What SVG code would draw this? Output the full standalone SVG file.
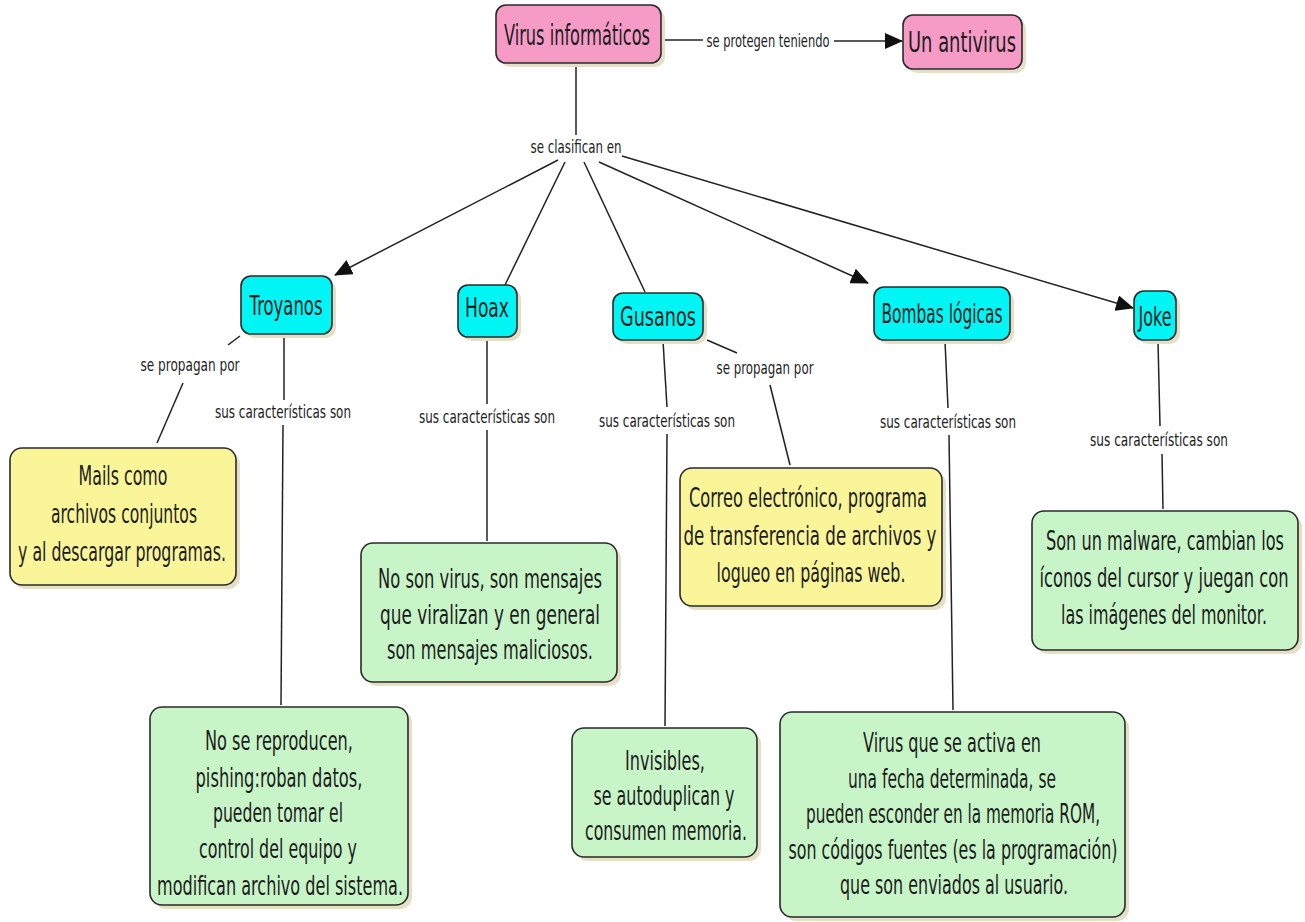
<svg xmlns="http://www.w3.org/2000/svg" width="1305" height="922" viewBox="0 0 1305 922">
<style>
.sh{fill:#e6dfc8}
.box{stroke:#2a2a2a;stroke-width:1.6}
.pink{fill:#f59bc6}
.cyan{fill:#00f5f5}
.yel{fill:#fbf59a}
.grn{fill:#c8f5c8}
text{font-family:"DejaVu Sans","Liberation Sans",sans-serif;fill:#1c1c1c;text-anchor:middle}
.t{font-size:27px}
.big{font-size:28px}
.lb{font-size:17px}
.ln{stroke:#222;stroke-width:1.5;fill:none}
</style>
<defs>
<marker id="ah" markerUnits="userSpaceOnUse" markerWidth="18" markerHeight="16" refX="17" refY="8" orient="auto">
<path d="M0,0 L18,8 L0,16 Z" fill="#111"/>
</marker>
</defs>
<rect width="1305" height="922" fill="#fff"/>
<g id="connectors">
<line class="ln" x1="661" y1="40" x2="703" y2="40"/>
<line class="ln" x1="834" y1="41" x2="902" y2="41" marker-end="url(#ah)"/>
<line class="ln" x1="576" y1="63" x2="576" y2="135"/>
<line class="ln" x1="558" y1="160" x2="335" y2="275" marker-end="url(#ah)"/>
<line class="ln" x1="565" y1="162" x2="505" y2="285"/>
<line class="ln" x1="584" y1="162" x2="645" y2="292"/>
<line class="ln" x1="599" y1="162" x2="868" y2="283" marker-end="url(#ah)"/>
<line class="ln" x1="622" y1="156" x2="1133" y2="308" marker-end="url(#ah)"/>
<line class="ln" x1="240" y1="336" x2="228" y2="345"/>
<line class="ln" x1="183" y1="383" x2="157" y2="443"/>
<line class="ln" x1="284" y1="336" x2="284" y2="400"/>
<line class="ln" x1="283" y1="425" x2="281" y2="705"/>
<line class="ln" x1="487" y1="340" x2="487" y2="404"/>
<line class="ln" x1="487" y1="430" x2="487" y2="541"/>
<line class="ln" x1="663" y1="341" x2="667" y2="407"/>
<line class="ln" x1="667" y1="434" x2="665" y2="726"/>
<line class="ln" x1="707" y1="340" x2="737" y2="353"/>
<line class="ln" x1="770" y1="385" x2="790" y2="465"/>
<line class="ln" x1="945" y1="341" x2="948" y2="408"/>
<line class="ln" x1="949" y1="435" x2="953" y2="710"/>
<line class="ln" x1="1158" y1="342" x2="1160" y2="426"/>
<line class="ln" x1="1162" y1="454" x2="1163" y2="509"/>
</g>
<g id="edge-labels">
<text class="lb" x="768" y="47" textLength="123" lengthAdjust="spacingAndGlyphs">se protegen teniendo</text>
<text class="lb" x="576" y="153" textLength="91" lengthAdjust="spacingAndGlyphs">se clasifican en</text>
<text class="lb" x="190" y="371" textLength="99" lengthAdjust="spacingAndGlyphs">se propagan por</text>
<text class="lb" x="283" y="418" textLength="136" lengthAdjust="spacingAndGlyphs">sus características son</text>
<text class="lb" x="487" y="423" textLength="136" lengthAdjust="spacingAndGlyphs">sus características son</text>
<text class="lb" x="667" y="427" textLength="136" lengthAdjust="spacingAndGlyphs">sus características son</text>
<text class="lb" x="765" y="374" textLength="97" lengthAdjust="spacingAndGlyphs">se propagan por</text>
<text class="lb" x="948" y="428" textLength="136" lengthAdjust="spacingAndGlyphs">sus características son</text>
<text class="lb" x="1159" y="446" textLength="138" lengthAdjust="spacingAndGlyphs">sus características son</text>
</g>
<g id="virus">
<rect class="sh" x="500" y="9" width="165" height="58" rx="10"/>
<rect class="box pink" x="496" y="5" width="165" height="58" rx="10"/>
<text class="big" x="577" y="45" textLength="146" lengthAdjust="spacingAndGlyphs">Virus informáticos</text>
</g>
<g id="antivirus">
<rect class="sh" x="907" y="19" width="119" height="54" rx="10"/>
<rect class="box pink" x="903" y="15" width="119" height="54" rx="10"/>
<text class="big" x="962" y="52" textLength="108" lengthAdjust="spacingAndGlyphs">Un antivirus</text>
</g>
<g id="troyanos">
<rect class="sh" x="245" y="280" width="91" height="58" rx="10"/>
<rect class="box cyan" x="241" y="276" width="91" height="58" rx="10"/>
<text class="t" x="286" y="315" textLength="73" lengthAdjust="spacingAndGlyphs">Troyanos</text>
</g>
<g id="hoax">
<rect class="sh" x="462" y="289" width="59" height="52" rx="10"/>
<rect class="box cyan" x="458" y="285" width="59" height="52" rx="10"/>
<text class="t" x="487" y="317" textLength="44" lengthAdjust="spacingAndGlyphs">Hoax</text>
</g>
<g id="gusanos">
<rect class="sh" x="617" y="297" width="90" height="47" rx="10"/>
<rect class="box cyan" x="613" y="293" width="90" height="47" rx="10"/>
<text class="t" x="658" y="326" textLength="76" lengthAdjust="spacingAndGlyphs">Gusanos</text>
</g>
<g id="bombas">
<rect class="sh" x="878" y="291" width="136" height="53" rx="10"/>
<rect class="box cyan" x="874" y="287" width="136" height="53" rx="10"/>
<text class="t" x="942" y="323" textLength="121" lengthAdjust="spacingAndGlyphs">Bombas lógicas</text>
</g>
<g id="joke">
<rect class="sh" x="1138" y="295" width="42" height="49" rx="10"/>
<rect class="box cyan" x="1134" y="291" width="42" height="49" rx="10"/>
<text class="t" x="1155" y="326" textLength="33" lengthAdjust="spacingAndGlyphs">Joke</text>
</g>
<g id="mails">
<rect class="sh" x="14" y="452" width="226" height="137" rx="12"/>
<rect class="box yel" x="10" y="448" width="226" height="137" rx="12"/>
<text class="t" x="123" y="485" textLength="89" lengthAdjust="spacingAndGlyphs">Mails como</text>
<text class="t" x="124" y="523" textLength="146" lengthAdjust="spacingAndGlyphs">archivos conjuntos</text>
<text class="t" x="122" y="561" textLength="208" lengthAdjust="spacingAndGlyphs">y al descargar programas.</text>
</g>
<g id="troyanos-car">
<rect class="sh" x="154" y="711" width="258" height="198" rx="12"/>
<rect class="box grn" x="150" y="707" width="258" height="198" rx="12"/>
<text class="t" x="279" y="750" textLength="148" lengthAdjust="spacingAndGlyphs">No se reproducen,</text>
<text class="t" x="279" y="787" textLength="167" lengthAdjust="spacingAndGlyphs">pishing:roban datos,</text>
<text class="t" x="278" y="822" textLength="130" lengthAdjust="spacingAndGlyphs">pueden tomar el</text>
<text class="t" x="278" y="858" textLength="158" lengthAdjust="spacingAndGlyphs">control del equipo y</text>
<text class="t" x="280" y="895" textLength="246" lengthAdjust="spacingAndGlyphs">modifican archivo del sistema.</text>
</g>
<g id="hoax-car">
<rect class="sh" x="365" y="547" width="256" height="139" rx="12"/>
<rect class="box grn" x="361" y="543" width="256" height="139" rx="12"/>
<text class="t" x="490" y="588" textLength="224" lengthAdjust="spacingAndGlyphs">No son virus, son mensajes</text>
<text class="t" x="490" y="624" textLength="220" lengthAdjust="spacingAndGlyphs">que viralizan y en general</text>
<text class="t" x="490" y="659" textLength="206" lengthAdjust="spacingAndGlyphs">son mensajes maliciosos.</text>
</g>
<g id="gusanos-prop">
<rect class="sh" x="684" y="472" width="262" height="138" rx="12"/>
<rect class="box yel" x="680" y="468" width="262" height="138" rx="12"/>
<text class="t" x="808" y="507" textLength="238" lengthAdjust="spacingAndGlyphs">Correo electrónico, programa</text>
<text class="t" x="810" y="545" textLength="253" lengthAdjust="spacingAndGlyphs">de transferencia de archivos y</text>
<text class="t" x="811" y="582" textLength="189" lengthAdjust="spacingAndGlyphs">logueo en páginas web.</text>
</g>
<g id="gusanos-car">
<rect class="sh" x="576" y="732" width="185" height="129" rx="12"/>
<rect class="box grn" x="572" y="728" width="185" height="129" rx="12"/>
<text class="t" x="665" y="770" textLength="80" lengthAdjust="spacingAndGlyphs">Invisibles,</text>
<text class="t" x="664" y="805" textLength="141" lengthAdjust="spacingAndGlyphs">se autoduplican y</text>
<text class="t" x="666" y="840" textLength="162" lengthAdjust="spacingAndGlyphs">consumen memoria.</text>
</g>
<g id="bombas-car">
<rect class="sh" x="784" y="716" width="345" height="205" rx="12"/>
<rect class="box grn" x="780" y="712" width="345" height="205" rx="12"/>
<text class="t" x="952" y="752" textLength="178" lengthAdjust="spacingAndGlyphs">Virus que se activa en</text>
<text class="t" x="952" y="788" textLength="208" lengthAdjust="spacingAndGlyphs">una fecha determinada, se</text>
<text class="t" x="953" y="823" textLength="294" lengthAdjust="spacingAndGlyphs">pueden esconder en la memoria ROM,</text>
<text class="t" x="953" y="859" textLength="329" lengthAdjust="spacingAndGlyphs">son códigos fuentes (es la programación)</text>
<text class="t" x="954" y="894" textLength="228" lengthAdjust="spacingAndGlyphs">que son enviados al usuario.</text>
</g>
<g id="joke-car">
<rect class="sh" x="1036" y="515" width="266" height="139" rx="12"/>
<rect class="box grn" x="1032" y="511" width="266" height="139" rx="12"/>
<text class="t" x="1165" y="550" textLength="238" lengthAdjust="spacingAndGlyphs">Son un malware, cambian los</text>
<text class="t" x="1164" y="587" textLength="249" lengthAdjust="spacingAndGlyphs">íconos del cursor y juegan con</text>
<text class="t" x="1164" y="624" textLength="206" lengthAdjust="spacingAndGlyphs">las imágenes del monitor.</text>
</g>
</svg>
